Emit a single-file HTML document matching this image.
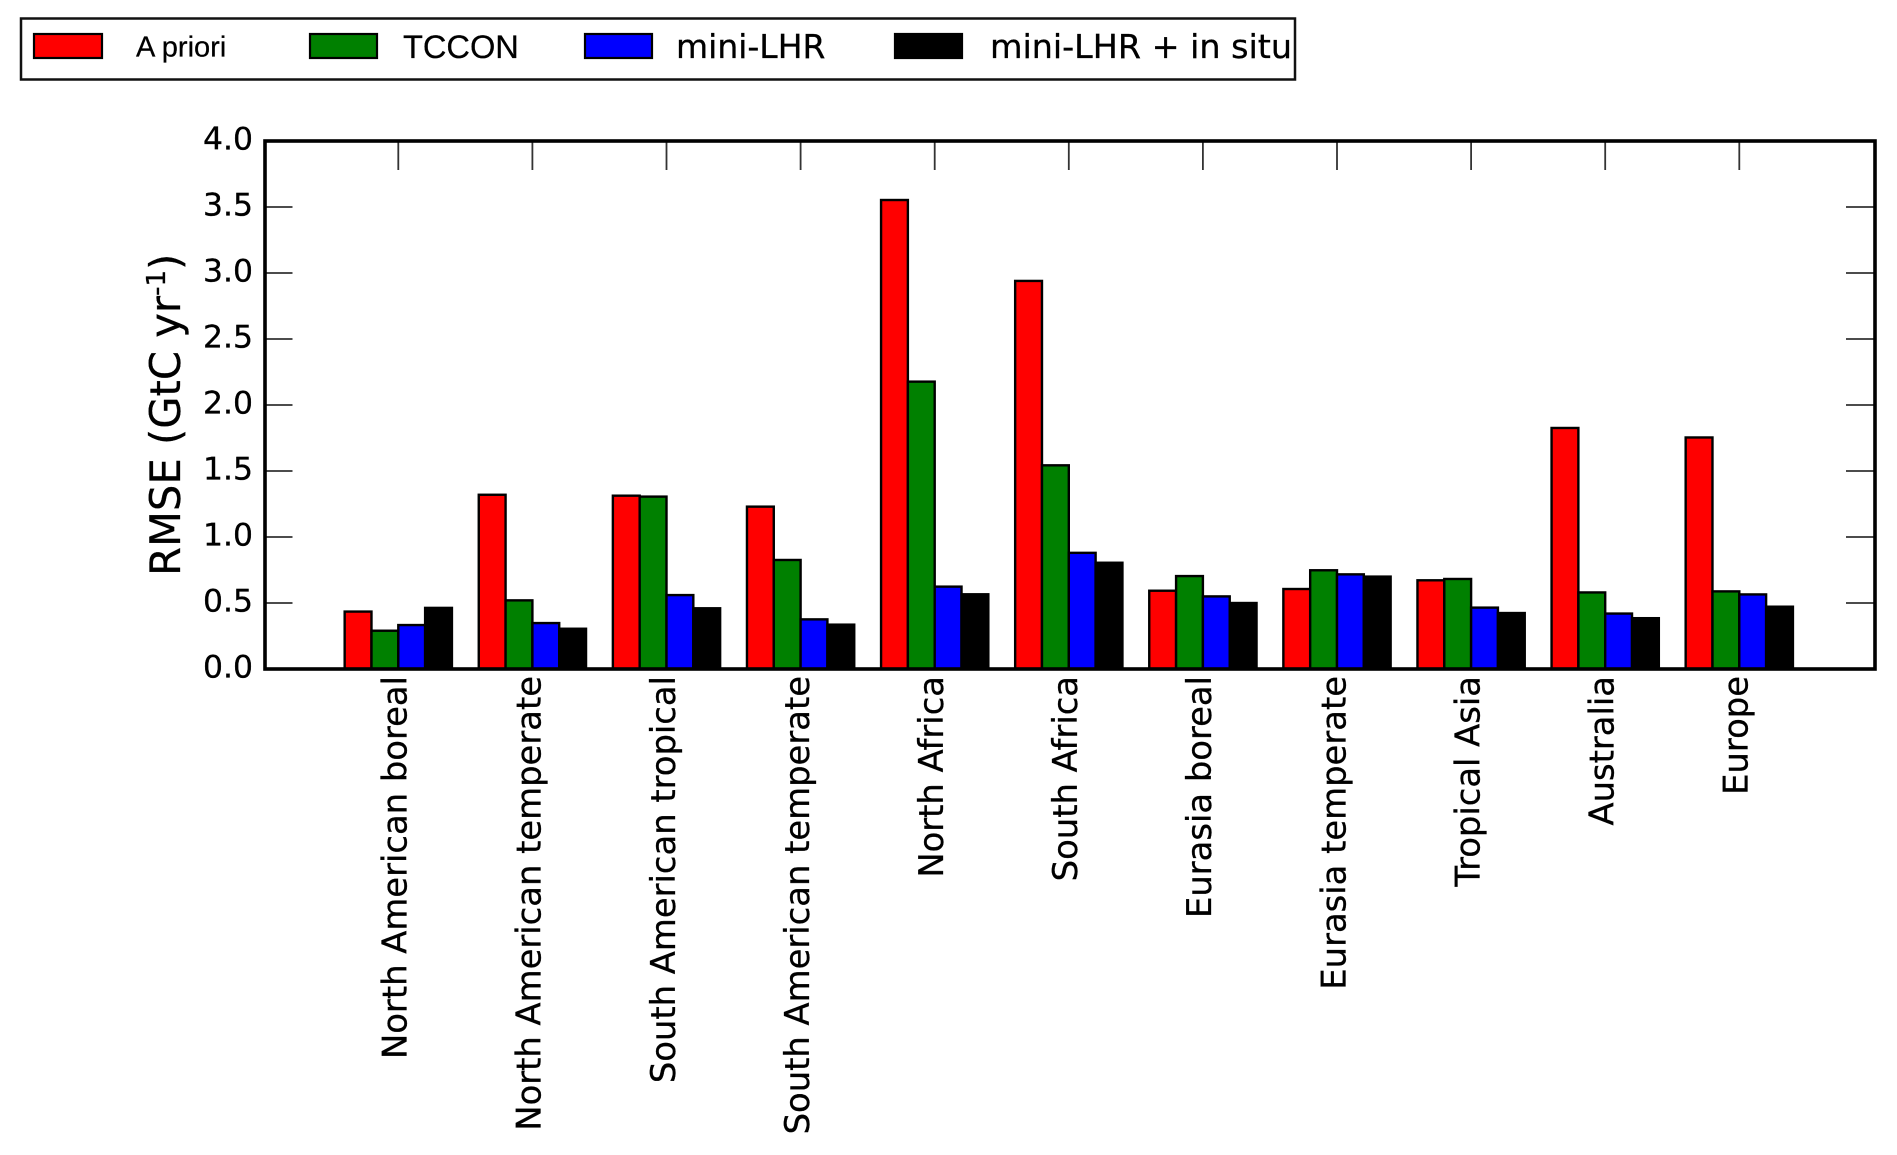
<!DOCTYPE html>
<html lang="en">
<head>
<meta charset="utf-8">
<title>RMSE by region</title>
<style>
  html, body { margin: 0; padding: 0; background: #fff; }
  body { width: 1897px; height: 1155px; overflow: hidden; }
  svg { display: block; }
  .dv { font-family: "DejaVu Sans", "Liberation Sans", sans-serif; fill: #000; stroke: #000; stroke-width: 0.3px; }
  .ls { font-family: "Liberation Sans", sans-serif; fill: #000; stroke: #000; stroke-width: 0.25px; }
</style>
</head>
<body>
<svg id="chart" xmlns="http://www.w3.org/2000/svg" width="1897" height="1155" viewBox="0 0 1897 1155">
  <rect x="0" y="0" width="1897" height="1155" fill="#fff"/>
  <g>
    <rect x="21" y="18.5" width="1274" height="61" fill="#fff" stroke="#111" stroke-width="2.5"/>
    <g>
      <rect x="34" y="34" width="68" height="24" fill="#ff0000" stroke="#000" stroke-width="2.2"/>
      <text class="ls" x="136" y="56.5" font-size="29">A priori</text>
    </g>
    <g>
      <rect x="310" y="34" width="67" height="24" fill="#008000" stroke="#000" stroke-width="2.2"/>
      <text class="ls" x="403" y="58" font-size="32.6">TCCON</text>
    </g>
    <g>
      <rect x="585" y="34" width="67" height="24" fill="#0000ff" stroke="#000" stroke-width="2.2"/>
      <text class="dv" x="676" y="58" font-size="33">mini-LHR</text>
    </g>
    <g>
      <rect x="895" y="34" width="67" height="24" fill="#000" stroke="#000" stroke-width="2.2"/>
      <text class="dv" x="990" y="58" font-size="33" textLength="302" lengthAdjust="spacingAndGlyphs">mini-LHR + in situ</text>
    </g>
  </g>
  <g transform="translate(180,576) rotate(-90)">
    <text class="dv" x="0" y="0" font-size="41.7">RMSE (GtC yr<tspan font-size="26" dy="-15">-1</tspan><tspan dy="15">)</tspan></text>
  </g>
  <g id="bars"></g>
  <g id="ticks"></g>
  <g id="labels"></g>
  <rect x="265" y="141" width="1610" height="528" fill="none" stroke="#000" stroke-width="3.6"/>
</svg>
<script>
const regions = ["North American boreal", "North American temperate", "South American tropical", "South American temperate", "North Africa", "South Africa", "Eurasia boreal", "Eurasia temperate", "Tropical Asia", "Australia", "Europe"];
const aPriori = [0.435, 1.32, 1.313, 1.23, 3.553, 2.94, 0.593, 0.606, 0.672, 1.826, 1.754];
const tccon = [0.29, 0.52, 1.306, 0.826, 2.177, 1.543, 0.704, 0.748, 0.682, 0.58, 0.588];
const miniLhr = [0.333, 0.348, 0.56, 0.376, 0.624, 0.88, 0.55, 0.717, 0.465, 0.42, 0.565];
const miniLhrInSitu = [0.463, 0.305, 0.46, 0.336, 0.566, 0.805, 0.50, 0.70, 0.424, 0.385, 0.472];
const yTicks = [0, 0.5, 1, 1.5, 2, 2.5, 3, 3.5, 4];

const seriesValues = [aPriori, tccon, miniLhr, miniLhrInSitu];
const seriesColors = ["#ff0000", "#008000", "#0000ff", "#000000"];
const seriesKeys = ["a-priori", "tccon", "mini-lhr", "mini-lhr-in-situ"];

const NS = "http://www.w3.org/2000/svg";
const xScale = v => 264.2 + v * 134.1;
const yScale = v => 669 - v * 132;
const barsG = document.getElementById("bars");
const ticksG = document.getElementById("ticks");
const labelsG = document.getElementById("labels");

function line(x1, y1, x2, y2) {
  const el = document.createElementNS(NS, "line");
  el.setAttribute("x1", x1);
  el.setAttribute("y1", y1);
  el.setAttribute("x2", x2);
  el.setAttribute("y2", y2);
  el.setAttribute("stroke", "#333");
  el.setAttribute("stroke-width", "1.8");
  return el;
}

seriesValues.forEach((vals, s) => {
  vals.forEach((v, g) => {
    const r = document.createElementNS(NS, "rect");
    const x0 = xScale(g + 0.6 + s * 0.2);
    const x1 = xScale(g + 0.6 + (s + 1) * 0.2);
    r.setAttribute("x", x0);
    r.setAttribute("y", yScale(v));
    r.setAttribute("width", x1 - x0);
    r.setAttribute("height", yScale(0) - yScale(v));
    r.setAttribute("fill", seriesColors[s]);
    r.setAttribute("stroke", "#000");
    r.setAttribute("stroke-width", "2.4");
    
    
    barsG.appendChild(r);
  });
});

yTicks.forEach(t => {
  const y = yScale(t);
  const left = line(265, y, 292.5, y);
  
  
  ticksG.appendChild(left);
  const right = line(1846, y, 1875, y);
  
  
  ticksG.appendChild(right);
  const label = document.createElementNS(NS, "text");
  label.setAttribute("class", "dv");
  label.setAttribute("x", 203);
  label.setAttribute("y", y + 8.5);
  label.setAttribute("font-size", "31");
  label.setAttribute("textLength", "50");
  label.setAttribute("lengthAdjust", "spacingAndGlyphs");
  
  
  label.textContent = t.toFixed(1);
  labelsG.appendChild(label);
});

regions.forEach((name, g) => {
  const x = xScale(g + 1);
  const tick = line(x, 141, x, 170);
  
  
  ticksG.appendChild(tick);
  const label = document.createElementNS(NS, "text");
  label.setAttribute("class", "dv");
  label.setAttribute("transform", "translate(" + (x + 8.3) + ",676) rotate(-90)");
  label.setAttribute("text-anchor", "end");
  label.setAttribute("font-size", "33.8");
  
  
  label.textContent = name;
  labelsG.appendChild(label);
});
</script>
</body>
</html>
